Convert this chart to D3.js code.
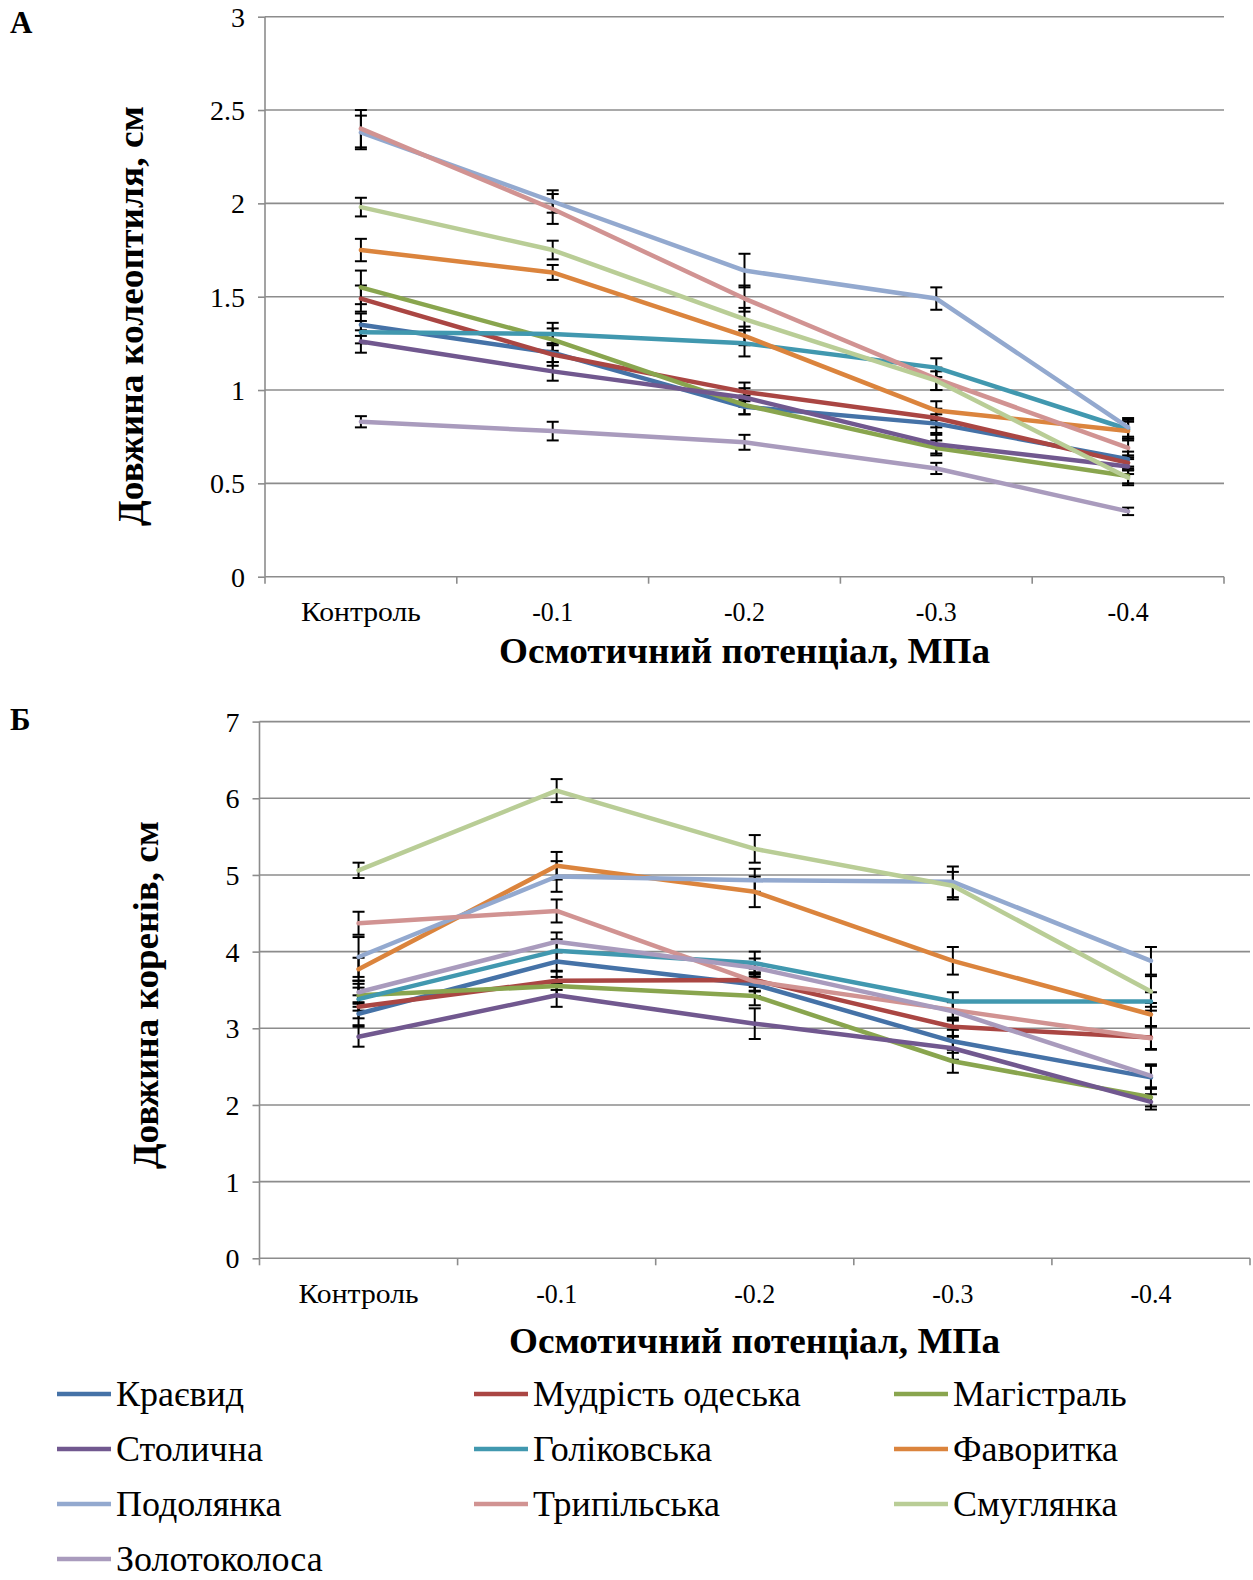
<!DOCTYPE html>
<html><head><meta charset="utf-8">
<script src="https://cdn.jsdelivr.net/npm/d3@7"></script>
<style>
html,body{margin:0;padding:0;background:#fff;}
svg{display:block;font-family:"Liberation Serif","Times New Roman",serif;}
</style></head>
<body>
<svg id="chart" width="1253" height="1580"></svg>
<script>
const categories = ["Контроль", "-0.1", "-0.2", "-0.3", "-0.4"];
const seriesNames = ["Краєвид", "Мудрість одеська", "Магістраль", "Столична", "Голіковська", "Фаворитка", "Подолянка", "Трипільська", "Смуглянка", "Золотоколоса"];
const seriesColors = ["#4572A7", "#AA4643", "#89A54E", "#71588F", "#4198AF", "#DB843D", "#93A9CF", "#D19392", "#B9CD96", "#A99BBD"];

// Panel A: coleoptile length, cm
const coleoptile = [
  [1.35, 1.20, 0.91, 0.82, 0.63],
  [1.49, 1.19, 0.99, 0.85, 0.61],
  [1.55, 1.27, 0.92, 0.69, 0.54],
  [1.26, 1.10, 0.96, 0.71, 0.59],
  [1.31, 1.30, 1.25, 1.12, 0.79],
  [1.75, 1.63, 1.29, 0.89, 0.78],
  [2.38, 2.01, 1.64, 1.49, 0.80],
  [2.40, 1.97, 1.49, 1.06, 0.69],
  [1.98, 1.75, 1.38, 1.05, 0.53],
  [0.83, 0.78, 0.72, 0.58, 0.35]
];
const coleoptileErr = [
  [0.06, 0.05, 0.04, 0.05, 0.04],
  [0.07, 0.06, 0.05, 0.05, 0.04],
  [0.09, 0.06, 0.05, 0.04, 0.04],
  [0.06, 0.05, 0.05, 0.05, 0.04],
  [0.06, 0.06, 0.07, 0.05, 0.05],
  [0.06, 0.04, 0.05, 0.05, 0.05],
  [0.09, 0.06, 0.09, 0.06, 0.05],
  [0.10, 0.08, 0.07, 0.06, 0.05],
  [0.05, 0.05, 0.06, 0.05, 0.04],
  [0.03, 0.05, 0.04, 0.03, 0.02]
];
// Panel B: root length, cm
const roots = [
  [3.19, 3.87, 3.57, 2.83, 2.36],
  [3.28, 3.62, 3.63, 3.02, 2.88],
  [3.43, 3.55, 3.42, 2.57, 2.10],
  [2.89, 3.43, 3.06, 2.74, 2.04],
  [3.38, 4.01, 3.85, 3.35, 3.35],
  [3.77, 5.12, 4.78, 3.88, 3.18],
  [3.93, 4.98, 4.93, 4.91, 3.88],
  [4.37, 4.53, 3.61, 3.24, 2.87],
  [5.06, 6.10, 5.34, 4.86, 3.48],
  [3.47, 4.13, 3.79, 3.22, 2.38]
];
const rootsErr = [
  [0.15, 0.12, 0.15, 0.15, 0.15],
  [0.15, 0.12, 0.15, 0.12, 0.15],
  [0.15, 0.12, 0.12, 0.15, 0.12],
  [0.13, 0.15, 0.20, 0.15, 0.10],
  [0.15, 0.15, 0.15, 0.12, 0.12],
  [0.15, 0.18, 0.20, 0.18, 0.15],
  [0.26, 0.20, 0.15, 0.20, 0.18],
  [0.15, 0.15, 0.12, 0.12, 0.15],
  [0.10, 0.15, 0.18, 0.18, 0.20],
  [0.15, 0.12, 0.12, 0.12, 0.15]
];
const yTicksA = [0, 0.5, 1, 1.5, 2, 2.5, 3];
const yTicksB = [0, 1, 2, 3, 4, 5, 6, 7];

const svg = d3.select("#chart");
const SERIF = "Liberation Serif";

function drawPanel(cfg) {
  const g = svg.append("g");
  const x = d3.scaleBand().domain(categories).range([cfg.left, cfg.right]);
  const y = d3.scaleLinear().domain([0, cfg.ymax]).range([cfg.bottom, cfg.top]);
  const cx = c => x(c) + x.bandwidth() / 2;

  // gridlines
  g.selectAll(".grid").data(cfg.yTicks.filter(t => t > 0)).join("line")
    .attr("x1", cfg.left).attr("x2", cfg.right)
    .attr("y1", d => y(d)).attr("y2", d => y(d))
    .attr("stroke", "#8c8c8c").attr("stroke-width", 1.6);

  // y axis
  const ya = g.append("g").attr("transform", `translate(${cfg.left},0)`)
    .call(d3.axisLeft(y).tickValues(cfg.yTicks).tickSize(7).tickPadding(13).tickFormat(d3.format("")));
  ya.attr("font-family", SERIF).attr("font-size", 28);
  ya.select(".domain").attr("stroke", "#8c8c8c").attr("stroke-width", 1.6).attr("d", `M0,${cfg.top}V${cfg.bottom}`);
  ya.selectAll(".tick line").attr("stroke", "#8c8c8c").attr("stroke-width", 1.6);
  ya.selectAll(".tick text").attr("fill", "#000").attr("dy", "0.34em");

  // x axis
  const xa = g.append("g").attr("transform", `translate(0,${cfg.bottom})`).attr("font-family", SERIF);
  xa.append("line").attr("x1", cfg.left).attr("x2", cfg.right).attr("stroke", "#8c8c8c").attr("stroke-width", 1.6);
  const bounds = categories.map(c => x(c)).concat([cfg.right]);
  xa.selectAll(".xt").data(bounds).join("line")
    .attr("x1", d => d).attr("x2", d => d).attr("y1", 0).attr("y2", 7)
    .attr("stroke", "#8c8c8c").attr("stroke-width", 1.6);
  xa.selectAll(".xl").data(categories).join("text")
    .attr("x", d => cx(d)).attr("y", cfg.xLabelDy)
    .attr("text-anchor", "middle").attr("font-size", 28)
    .attr("textLength", (d, i) => i === 0 ? 120 : 41).attr("lengthAdjust", "spacingAndGlyphs")
    .text(d => d);

  // error bars
  seriesNames.forEach((name, si) => {
    const eg = g.append("g");
    categories.forEach((c, ci) => {
      const v = cfg.values[si][ci], e = cfg.errs[si][ci];
      const px = cx(c);
      eg.append("line").attr("x1", px).attr("x2", px).attr("y1", y(v + e)).attr("y2", y(v - e))
        .attr("stroke", "#000").attr("stroke-width", 2);
      [v + e, v - e].forEach(t => eg.append("line").attr("x1", px - 6).attr("x2", px + 6)
        .attr("y1", y(t)).attr("y2", y(t)).attr("stroke", "#000").attr("stroke-width", 2));
    });
  });

  // lines
  const line = d3.line().x((d, i) => cx(categories[i])).y(d => y(d));
  seriesNames.forEach((name, si) => {
    g.append("path").datum(cfg.values[si]).attr("d", line)
      .attr("fill", "none").attr("stroke", seriesColors[si]).attr("stroke-width", 4.5)
      .attr("stroke-linejoin", "round").attr("stroke-linecap", "round");
  });

  // axis titles
  g.append("text").attr("x", (cfg.xTitleX0 + cfg.xTitleX1) / 2).attr("y", cfg.xTitleY)
    .attr("text-anchor", "middle").attr("font-weight", "bold").attr("font-size", 35)
    .attr("textLength", cfg.xTitleX1 - cfg.xTitleX0).attr("lengthAdjust", "spacingAndGlyphs")
    .text("Осмотичний потенціал, МПа");
  g.append("text").attr("transform", `translate(${cfg.yTitleX},${cfg.yTitleCY}) rotate(-90)`)
    .attr("text-anchor", "middle").attr("font-weight", "bold").attr("font-size", 35)
    .attr("textLength", cfg.yTitleLen).attr("lengthAdjust", "spacingAndGlyphs")
    .text(cfg.yTitle);
  g.append("text").attr("x", 10).attr("y", cfg.panelLabelY).attr("font-weight", "bold").attr("font-size", 31)
    .text(cfg.panelLabel);
}

drawPanel({
  left: 265, right: 1224, top: 16.7, bottom: 576.7, ymax: 3, yTicks: yTicksA,
  values: coleoptile, errs: coleoptileErr, xLabelDy: 44,
  xTitleX0: 499, xTitleX1: 990, xTitleY: 663,
  yTitle: "Довжина колеоптиля, см", yTitleX: 143, yTitleCY: 316, yTitleLen: 420,
  panelLabel: "А", panelLabelY: 33
});
drawPanel({
  left: 259.5, right: 1250, top: 721.6, bottom: 1258.3, ymax: 7, yTicks: yTicksB,
  values: roots, errs: rootsErr, xLabelDy: 45,
  xTitleX0: 509, xTitleX1: 1000, xTitleY: 1353,
  yTitle: "Довжина коренів, см", yTitleX: 158, yTitleCY: 995, yTitleLen: 348,
  panelLabel: "Б", panelLabelY: 730
});

// legend
const legCols = [57, 474, 894];
const legRows = [1406, 1461, 1516, 1571];
const leg = svg.append("g");
seriesNames.forEach((name, i) => {
  const col = i % 3, row = Math.floor(i / 3);
  const lx = legCols[col], ly = legRows[row];
  leg.append("line").attr("x1", lx).attr("x2", lx + 54).attr("y1", ly - 12).attr("y2", ly - 12)
    .attr("stroke", seriesColors[i]).attr("stroke-width", 4.5);
  leg.append("text").attr("x", lx + 59).attr("y", ly).attr("font-size", 36).text(name);
});
</script>
</body></html>
